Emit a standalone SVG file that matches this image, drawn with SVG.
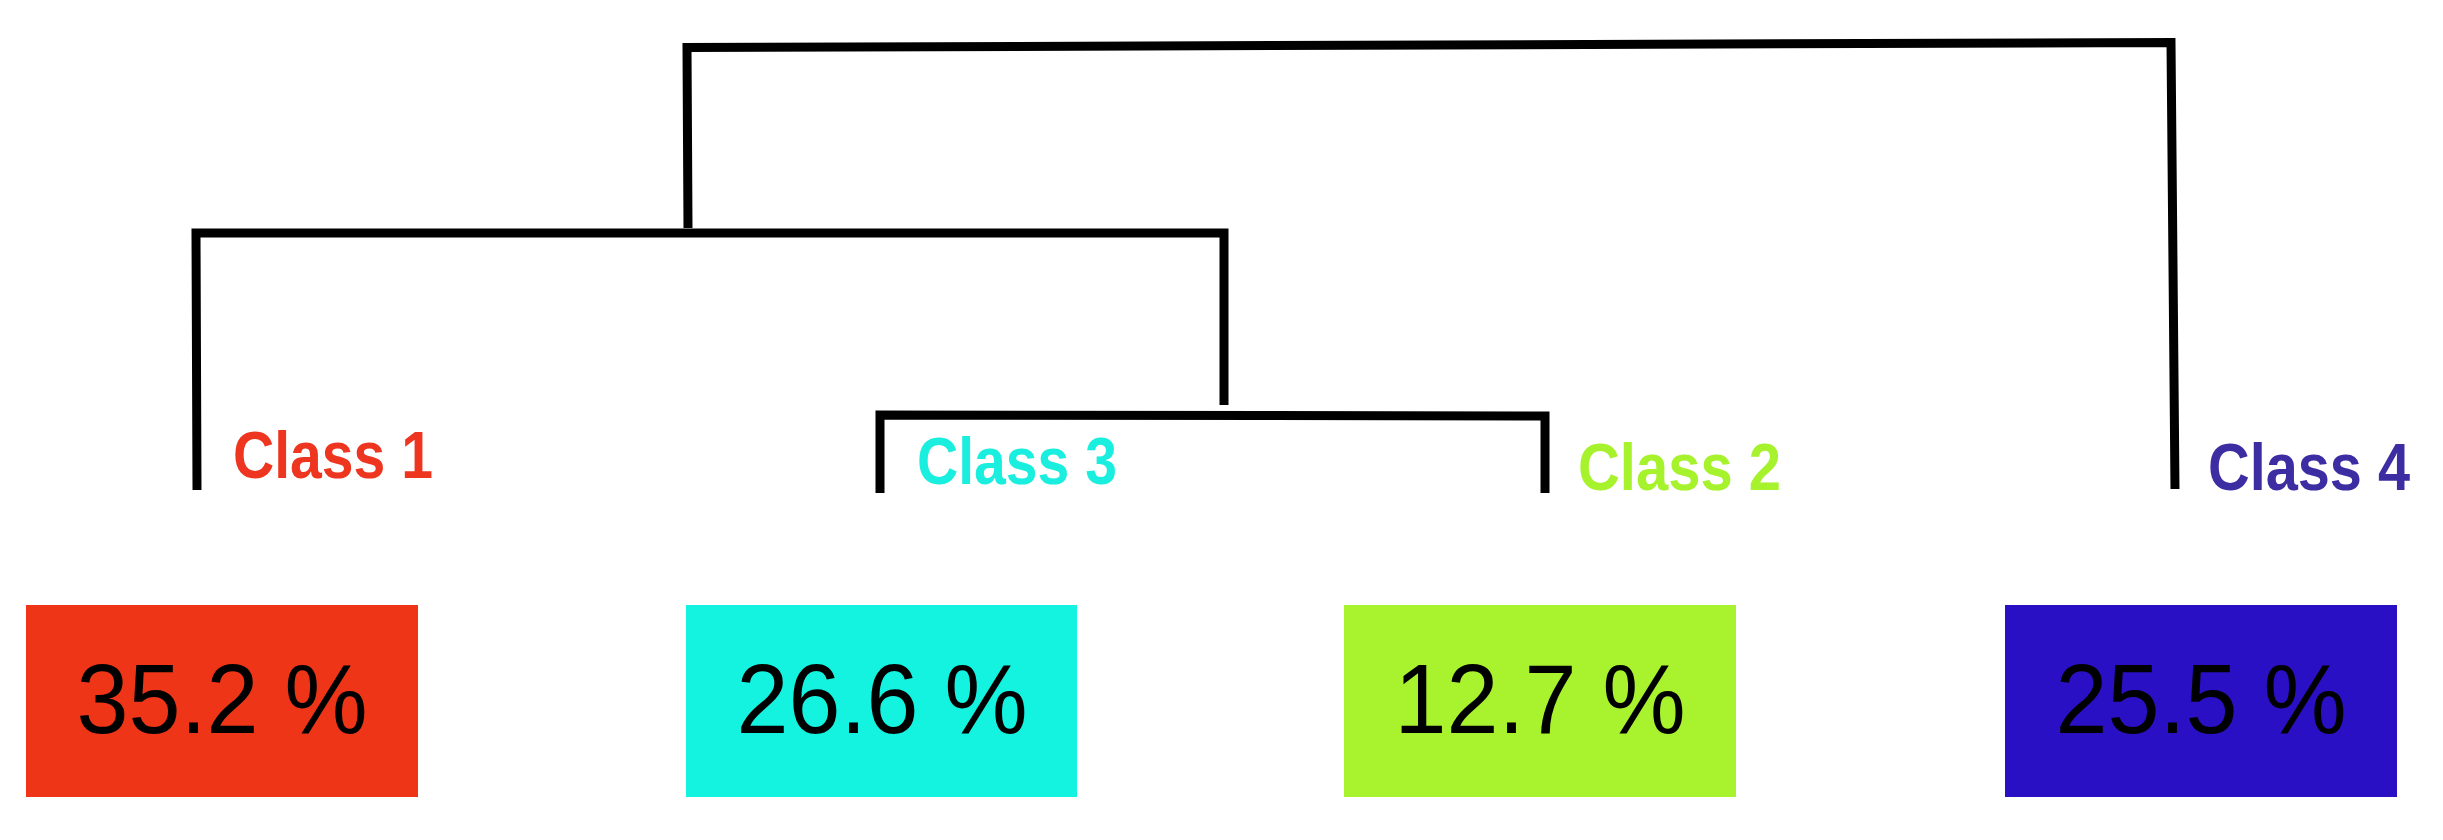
<svg xmlns="http://www.w3.org/2000/svg" width="2443" height="840" viewBox="0 0 2443 840">
<style>
.link{fill:none;stroke:#000;stroke-width:9;stroke-linejoin:miter;stroke-linecap:butt}
.lbl{font-family:"Liberation Sans",Arial,sans-serif;font-weight:bold;font-size:66px}
.pct{font-family:"Liberation Sans",Arial,sans-serif;font-size:99px;fill:#000;text-anchor:middle}
</style>
<rect width="2443" height="840" fill="#fff"/>
<g id="connectors">
<path class="link" d="M688 228 L687 47.5 L2171 42.5 L2175 489"/>
<path class="link" d="M197 490 L196 233 L1224 233 L1224 405"/>
<path class="link" d="M880 493 L880 415 L1545 416 L1545 493"/>
</g>
<g id="class1">
<text class="lbl" x="233" y="478" fill="#EE3520" textLength="200" lengthAdjust="spacingAndGlyphs">Class 1</text>
<rect x="26" y="605" width="392" height="192" fill="#EE3517"/>
<text class="pct" x="222" y="733" textLength="291" lengthAdjust="spacingAndGlyphs">35.2 %</text>
</g>
<g id="class3">
<text class="lbl" x="917" y="484" fill="#19EEDF" textLength="200" lengthAdjust="spacingAndGlyphs">Class 3</text>
<rect x="686" y="605" width="391" height="192" fill="#14F2E0"/>
<text class="pct" x="882" y="733" textLength="291" lengthAdjust="spacingAndGlyphs">26.6 %</text>
</g>
<g id="class2">
<text class="lbl" x="1578" y="490" fill="#A6F22C" textLength="203" lengthAdjust="spacingAndGlyphs">Class 2</text>
<rect x="1344" y="605" width="392" height="192" fill="#A8F22E"/>
<text class="pct" x="1540" y="733" textLength="291" lengthAdjust="spacingAndGlyphs">12.7 %</text>
</g>
<g id="class4">
<text class="lbl" x="2208" y="490" fill="#3C2DA2" textLength="202" lengthAdjust="spacingAndGlyphs">Class 4</text>
<rect x="2005" y="605" width="392" height="192" fill="#2A10C4"/>
<text class="pct" x="2201" y="733" textLength="291" lengthAdjust="spacingAndGlyphs">25.5 %</text>
</g>
</svg>
